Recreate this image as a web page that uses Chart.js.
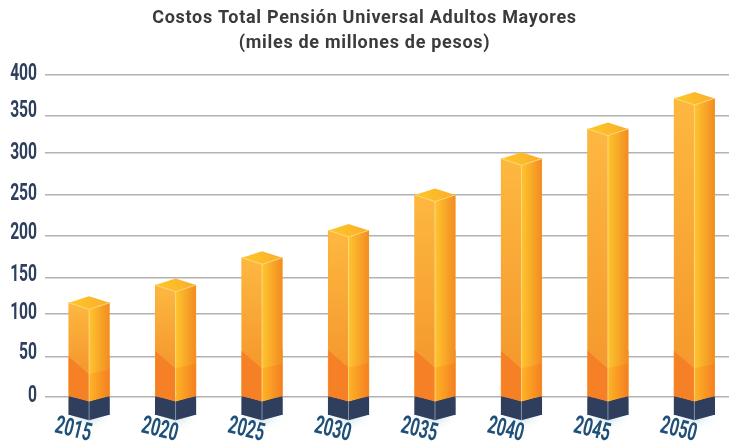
<!DOCTYPE html>
<html>
<head>
<meta charset="utf-8">
<title>Costos Total Pensión Universal Adultos Mayores</title>
<script src="https://cdn.jsdelivr.net/npm/chart.js@4"></script>
<style>
    html, body { margin: 0; padding: 0; background: #fff; overflow: hidden; }
    #wrap { width: 729px; height: 445px; }
</style>
</head>
<body>
<div id="wrap"><canvas id="chart" width="729" height="445"></canvas></div>
<script>
const years = [2015, 2020, 2025, 2030, 2035, 2040, 2045, 2050];
const totals = [117, 139, 173, 207, 251, 296, 333, 371];
const lowerBand = [50, 57, 57, 58, 58, 57, 57, 57];
const footing = [-22, -22, -22, -22, -22, -22, -22, -22];

// hand-placed axis: grid lines and their labels sit slightly off the round values
const gridValues = [0, 50.4, 103, 148.6, 200.7, 251.3, 303.9, 349, 400];
const labelValues = [3, 56, 106, 153, 204.5, 254, 305, 356, 403];
const tickLabels = ["0", "50", "100", "150", "200", "250", "300", "350", "400"];

const titleLines = ["Costos Total Pensión Universal Adultos Mayores", "(miles de millones de pesos)"];

const poly = (ctx, pts, fill) => {
    ctx.beginPath();
    pts.forEach((p, i) => i ? ctx.lineTo(p[0], p[1]) : ctx.moveTo(p[0], p[1]));
    ctx.closePath();
    ctx.fillStyle = fill;
    ctx.fill();
};

const hGrad = (ctx, x0, x1, from, to) => {
    const g = ctx.createLinearGradient(x0, 0, x1, 0);
    g.addColorStop(0, from);
    g.addColorStop(1, to);
    return g;
};

const vGrad = (ctx, y0, y1, from, to) => {
    const g = ctx.createLinearGradient(0, y0, 0, y1);
    g.addColorStop(0, from);
    g.addColorStop(1, to);
    return g;
};

// turns each flat bar into a box: two side faces, a lid and a dark footing
const boxFaces = {
    id: "boxFaces",
    afterDatasetsDraw(chart) {
        const ctx = chart.ctx;
        const tops = chart.getDatasetMeta(0).data;
        const bands = chart.getDatasetMeta(1).data;
        const feet = chart.getDatasetMeta(2).data;
        const lid = 6.5, drop = 5.5;

        tops.forEach((bar, i) => {
            const xc = bar.x, x0 = xc - bar.width / 2, x1 = xc + bar.width / 2;
            const yt = bar.y, y0 = bar.base, yb = bands[i].y, yf = feet[i].y;

            ctx.save();

            // soft shadow under the footing
            ctx.save();
            ctx.shadowColor = "rgba(90,160,175,0.55)";
            ctx.shadowBlur = 9;
            ctx.shadowOffsetY = 3;
            poly(ctx, [[x0 + 3, yf - 2], [xc, yf + drop - 2], [x1 - 3, yf - 2]], "#2e3e5c");
            ctx.restore();

            // upper faces
            poly(ctx, [[x0, yt], [xc, yt + lid], [xc, yb + 17.5], [x0, yb]],
                vGrad(ctx, yt, yb + 10, "#fdb840", "#f59a2e"));
            poly(ctx, [[xc, yt + lid], [x1, yt], [x1, yb + 12.5], [xc, yb + 17.5]],
                hGrad(ctx, xc, x1, "#fec52e", "#f28c22"));

            // lid
            poly(ctx, [[x0, yt], [xc, yt - lid], [x1, yt], [xc, yt + lid]],
                hGrad(ctx, x0, x1, "#fdc828", "#fbad2b"));

            // darker band near the base
            poly(ctx, [[x0, yb], [xc, yb + 17.5], [xc, y0 + drop], [x0, y0]], "#f58026");
            poly(ctx, [[xc, yb + 17.5], [x1, yb + 12.5], [x1, y0], [xc, y0 + drop]],
                hGrad(ctx, xc, x1, "#fdb426", "#f57f22"));

            // footing below zero
            poly(ctx, [[x0, y0], [xc, y0 + drop], [xc, yf + drop], [x0, yf]], "#2e3e5c");
            poly(ctx, [[xc, y0 + drop], [x1, y0], [x1, yf], [xc, yf + drop]], "#2e3e5c");

            // light edges
            ctx.lineWidth = 1;
            ctx.strokeStyle = "rgba(255,225,150,0.75)";
            ctx.beginPath();
            ctx.moveTo(x0, yt);
            ctx.lineTo(xc, yt + lid);
            ctx.lineTo(x1, yt);
            ctx.moveTo(xc, yt + lid);
            ctx.lineTo(xc, y0 + drop);
            ctx.stroke();
            ctx.strokeStyle = "rgba(150,165,190,0.8)";
            ctx.beginPath();
            ctx.moveTo(xc, y0 + drop);
            ctx.lineTo(xc, yf + drop);
            ctx.stroke();

            ctx.restore();
        });
    }
};

// both axes use squeezed digits, which tick options can't do, so they are placed per tick
const axisLabels = {
    id: "axisLabels",
    afterDraw(chart) {
        const ctx = chart.ctx;
        const { x: xScale, y: yScale } = chart.scales;
        ctx.save();
        ctx.letterSpacing = "0px";
        ctx.textBaseline = "middle";

        ctx.font = "bold 24px Roboto";
        ctx.fillStyle = "#2f3f5e";
        ctx.textAlign = "right";
        tickLabels.forEach((label, i) => {
            ctx.save();
            ctx.translate(37, yScale.getPixelForValue(labelValues[i]) + 1);
            ctx.scale(0.65, 1);
            ctx.fillText(label, 0, 0);
            ctx.restore();
        });

        ctx.font = "bold 25px Roboto";
        ctx.fillStyle = "#1f5079";
        ctx.textAlign = "center";
        years.forEach(year => {
            ctx.save();
            ctx.translate(xScale.getPixelForValue(year) - 16, 430.5);
            ctx.rotate(14 * Math.PI / 180);
            ctx.scale(0.64, 1);
            ctx.fillText(String(year), 0, 0);
            ctx.restore();
        });
        ctx.restore();
    }
};

// tracked-out title text
const titleTracking = {
    id: "titleTracking",
    beforeDraw(chart) {
        chart.ctx.letterSpacing = "0.7px";
    }
};

const chart = new Chart(document.getElementById("chart"), {
    type: "bar",
    data: {
        datasets: [
            { label: "Costo total", data: years.map((x, i) => ({ x, y: totals[i] })), backgroundColor: "#f9a733", clip: false },
            { label: "Tramo inferior", data: years.map((x, i) => ({ x, y: lowerBand[i] })), backgroundColor: "#f58026", clip: false },
            { label: "Base", data: years.map((x, i) => ({ x, y: footing[i] })), backgroundColor: "#2e3e5c", clip: false }
        ]
    },
    options: {
        responsive: false,
        animation: false,
        layout: { padding: { top: 0, right: 0, bottom: 48, left: 0 } },
        datasets: { bar: { barThickness: 40.5, grouped: false, borderWidth: 0 } },
        scales: {
            x: {
                type: "linear",
                offset: false,
                min: 2012.45,
                max: 2052,
                afterBuildTicks: scale => { scale.ticks = years.map(value => ({ value })); },
                afterFit: scale => { scale.height = 0; },
                grid: { display: false },
                border: { display: false },
                ticks: { display: false }
            },
            y: {
                min: 0,
                max: 400,
                afterBuildTicks: scale => { scale.ticks = gridValues.map(value => ({ value })); },
                afterFit: scale => { scale.width = 45; },
                grid: { color: "#b2b2b4", lineWidth: 1.5, drawTicks: false },
                border: { display: false },
                ticks: { display: false }
            }
        },
        plugins: {
            legend: { display: false },
            tooltip: { enabled: false },
            title: {
                display: true,
                text: titleLines,
                color: "#3b3b3b",
                font: { family: "Roboto", size: 18, weight: "bold", lineHeight: 1.39 },
                padding: { top: 6, bottom: 19 }
            }
        }
    },
    plugins: [titleTracking, boxFaces, axisLabels]
});
</script>
</body>
</html>
